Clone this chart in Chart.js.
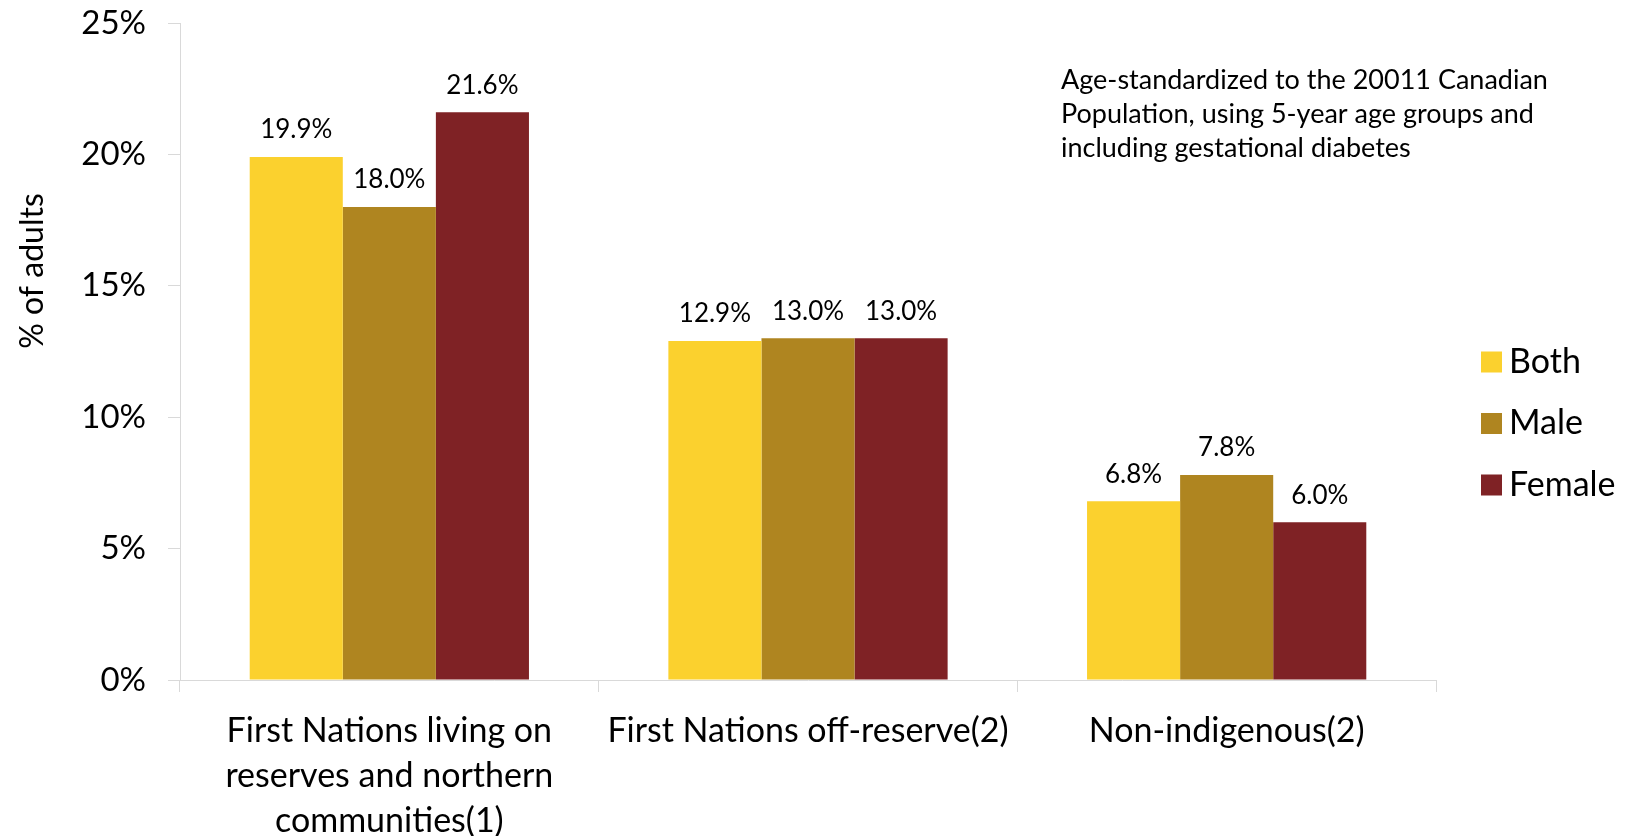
<!DOCTYPE html>
<html>
<head>
<meta charset="utf-8">
<script src="https://cdn.jsdelivr.net/npm/chart.js@4.4.0/dist/chart.umd.min.js"></script>
<style>
  html, body { margin: 0; padding: 0; background: #fff; }
  #wrap { width: 1635px; height: 836px; }
</style>
</head>
<body>
<div id="wrap"><canvas id="myChart" width="1635" height="836"></canvas></div>
<script>
// categories (multi-line labels)
const categories = [
  ['First Nations living on', 'reserves and northern', 'communities(1)'],
  'First Nations off-reserve(2)',
  'Non-indigenous(2)'
];
const seriesNames = ['Both', 'Male', 'Female'];
const bothValues = [19.9, 12.9, 6.8];
const maleValues = [18.0, 13.0, 7.8];
const femaleValues = [21.6, 13.0, 6.0];
const yTicks = [0, 5, 10, 15, 20, 25];
const yTitle = '% of adults';
const noteLines = [
  'Age-standardized to the 20011 Canadian',
  'Population, using 5-year age groups and',
  'including gestational diabetes'
];

const FONT = 'Lato, "Open Sans", sans-serif';
const colors = ['rgb(251, 209, 46)', 'rgb(175, 133, 32)', 'rgb(127, 34, 37)'];

// labels above bars
const barLabels = {
  id: 'barLabels',
  afterDatasetsDraw(chart) {
    const c = chart.ctx;
    c.save();
    c.font = '26px ' + FONT;
    c.fillStyle = '#000';
    c.textAlign = 'center';
    c.textBaseline = 'middle';
    chart.data.datasets.forEach(function (ds, i) {
      const meta = chart.getDatasetMeta(i);
      meta.data.forEach(function (bar, j) {
        c.fillText(ds.data[j].toFixed(1) + '%', bar.x, bar.y - 27);
      });
    });
    c.restore();
  }
};

// note text top right + y axis title (sits above the axis middle)
const extraText = {
  id: 'extraText',
  afterDraw(chart) {
    const c = chart.ctx;
    c.save();
    c.font = '27px ' + FONT;
    c.fillStyle = '#000';
    c.textAlign = 'left';
    c.textBaseline = 'middle';
    noteLines.forEach(function (line, i) {
      c.fillText(line, 1061, 80 + i * 34);
    });
    c.translate(33, 271);
    c.rotate(-Math.PI / 2);
    c.font = '32px ' + FONT;
    c.textAlign = 'center';
    c.fillText(yTitle, 0, 0);
    c.restore();
  }
};

// legend on the right, drawn from the datasets
const sideLegend = {
  id: 'sideLegend',
  afterDraw(chart) {
    const c = chart.ctx;
    c.save();
    c.font = '34px ' + FONT;
    c.textAlign = 'left';
    c.textBaseline = 'middle';
    chart.data.datasets.forEach(function (ds, i) {
      const y = 362 + i * 61.5;
      c.fillStyle = ds.backgroundColor;
      c.fillRect(1481, y - 10.5, 21, 21);
      c.fillStyle = '#000';
      c.fillText(ds.label, 1509, y);
    });
    c.restore();
  }
};

const ctx = document.getElementById('myChart');
const myChart = new Chart(ctx, {
  type: 'bar',
  data: {
    labels: categories,
    datasets: [
      { label: seriesNames[0], data: bothValues, backgroundColor: colors[0] },
      { label: seriesNames[1], data: maleValues, backgroundColor: colors[1] },
      { label: seriesNames[2], data: femaleValues, backgroundColor: colors[2] }
    ]
  },
  options: {
    responsive: false,
    animation: false,
    layout: { padding: { left: 0, right: 199, top: 23, bottom: 0 } },
    datasets: {
      bar: { barPercentage: 1, categoryPercentage: 0.667 }
    },
    plugins: {
      legend: { display: false },
      tooltip: { enabled: false }
    },
    scales: {
      x: {
        afterFit(axis) {
          axis.height = 156;
          axis.paddingLeft = 0;
          axis.paddingRight = 0;
        },
        grid: {
          offset: true,
          drawOnChartArea: false,
          color: '#d9d9d9',
          tickLength: 12
        },
        border: { color: '#d9d9d9', width: 1 },
        ticks: {
          font: { family: FONT, size: 34, lineHeight: 1.32 },
          color: '#000',
          padding: 17,
          maxRotation: 0
        }
      },
      y: {
        min: 0,
        max: 25,
        afterFit(axis) {
          axis.width = 180;
          axis.paddingTop = 0;
          axis.paddingBottom = 0;
        },
        afterBuildTicks(axis) {
          axis.ticks = yTicks.map(function (v) { return { value: v }; });
        },
        grid: {
          drawOnChartArea: false,
          color: '#d9d9d9',
          tickLength: 12
        },
        border: { color: '#d9d9d9', width: 1 },
        ticks: {
          font: { family: FONT, size: 33 },
          color: '#000',
          padding: 22,
          callback: function (v) { return v + '%'; }
        }
      }
    }
  },
  plugins: [barLabels, extraText, sideLegend]
});
</script>
</body>
</html>
